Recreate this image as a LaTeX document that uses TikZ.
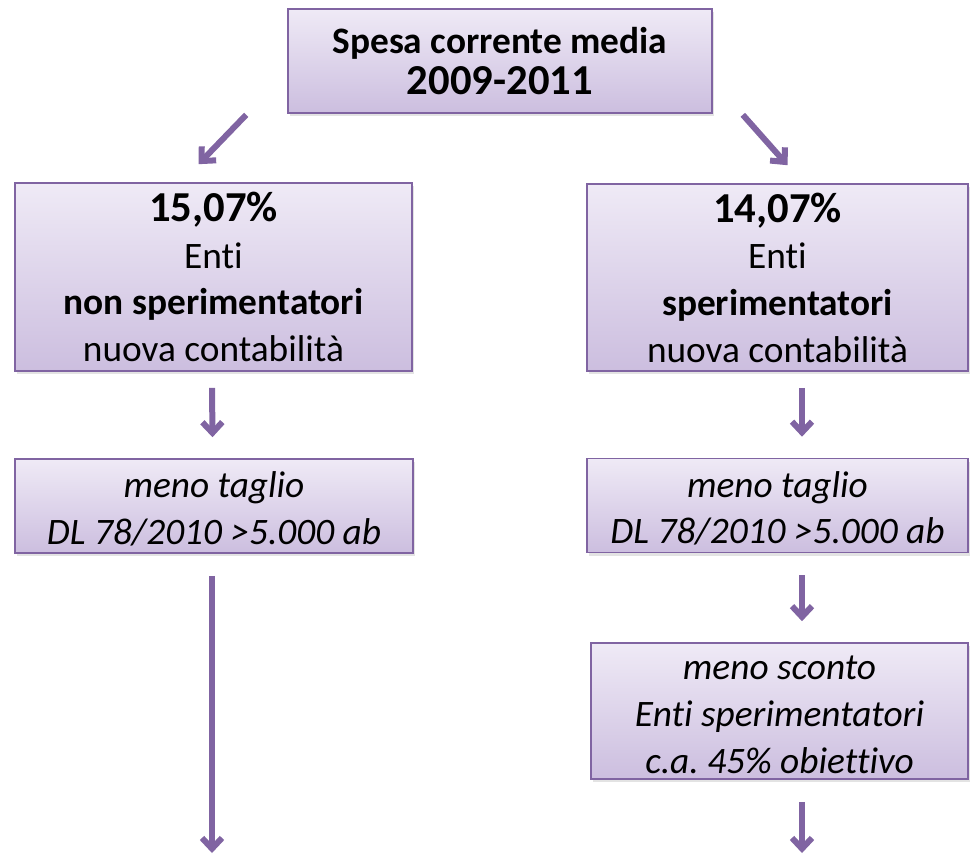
\documentclass[tikz,border=0pt]{standalone}
\usepackage{fontspec}
\setmainfont{Carlito}[Ligatures=CommonOff]
\usetikzlibrary{arrows.meta,calc,shadows}
\definecolor{boxtop}{HTML}{EFEAF6}
\definecolor{boxbot}{HTML}{CCBEDF}
\definecolor{pline}{HTML}{8064A2}
\tikzset{
  box/.style={draw=pline, line width=1.2pt, top color=boxtop, bottom color=boxbot,
    inner sep=0pt,
    drop shadow={shadow xshift=1.5pt, shadow yshift=-2.5pt, opacity=0.22}},
  txt/.style={inner sep=0pt, align=center, font=\fontsize{28}{35}\selectfont},
  conn/.style={draw=pline, line width=4.5pt, -{Straight Barb[length=8pt,width=15pt]}},
}
\newcommand{\bigline}[1]{{\fontsize{32}{35}\selectfont\bfseries #1}}
\begin{document}
\frenchspacing
\begin{tikzpicture}[x=0.75pt,y=-0.75pt]
\useasboundingbox (0,0) rectangle (970,855);

\node[box, minimum width={424*0.75pt}, minimum height={104*0.75pt}] (top) at (500,61) {};
\node[txt, font=\fontsize{28}{31}\selectfont\bfseries] (topt) at ($(top)+(0,0)$)
  {Spesa corrente media\\\bigline{2009-2011}};

\node[box, minimum width={397*0.75pt}, minimum height={188*0.75pt}] (L1) at (213.5,277) {};
\node[txt] (L1t) at ($(L1)+(0,0)$)
  {\bigline{15,07\%}\\Enti\\\textbf{non sperimentatori}\\nuova contabilità};
\node[box, minimum width={381*0.75pt}, minimum height={187*0.75pt}] (R1) at (777.5,277.5) {};
\node[txt] (R1t) at ($(R1)+(0,0)$)
  {\bigline{14,07\%}\\Enti\\\textbf{sperimentatori}\\nuova contabilità};

\node[box, minimum width={398*0.75pt}, minimum height={94*0.75pt}] (L2) at (214,506) {};
\node[txt, font=\fontsize{28}{35}\selectfont\itshape] (L2t) at ($(L2)+(0,3)$)
  {meno taglio\\DL 78/2010 >5.000 ab};
\node[box, minimum width={381*0.75pt}, minimum height={94*0.75pt}] (R2) at (777.5,505.5) {};
\node[txt, font=\fontsize{28}{35}\selectfont\itshape] (R2t) at ($(R2)+(0,3)$)
  {meno taglio\\DL 78/2010 >5.000 ab};

\node[box, minimum width={377*0.75pt}, minimum height={136*0.75pt}] (R3) at (779.5,711) {};
\node[txt, font=\fontsize{28}{35}\selectfont\itshape] (R3t) at ($(R3)+(0,4)$)
  {meno sconto\\Enti sperimentatori\\c.a. 45\% obiettivo};

\coordinate (Lend) at (212,853);
\coordinate (Rend) at (802,853);

\draw[conn] ($(top.south west)+(-41,1)$) -- ($(L1.north)+(-15,-18)$);
\draw[conn] ($(top.south east)+(30,1)$) -- ($(R1.north)+(10,-18)$);
\draw[conn] ($(L1.south)+(-1.5,16)$) -- ($(L2.north)+(-1.5,-21)$);
\draw[conn] ($(R1.south)+(24.5,16)$) -- ($(R2.north)+(24.5,-21)$);
\draw[conn] ($(L2.south)+(-2,22)$) -- (Lend);
\draw[conn] ($(R2.south)+(24.5,22)$) -- ($(R3.north)+(22.5,-21)$);
\draw[conn] ($(R3.south)+(22.5,22)$) -- (Rend);
\end{tikzpicture}
\end{document}
